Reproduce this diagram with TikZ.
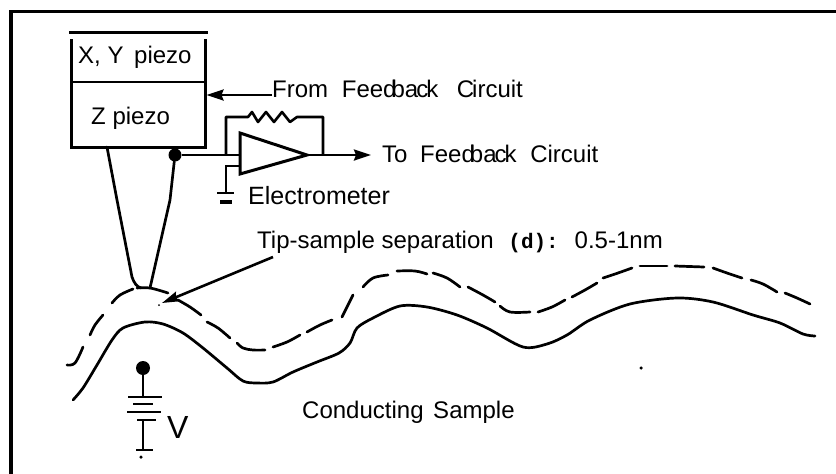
\documentclass[tikz,border=0pt]{standalone}
\usepackage{fontspec}
\setmainfont{Liberation Sans}
\setmonofont{Liberation Mono}
\usetikzlibrary{arrows.meta, calc}
\newcommand{\fbword}{Feed\kern-5pt ba\kern-2pt c\kern-2pt k}

\begin{document}
\begin{tikzpicture}[
  x=1pt, y=-1pt,
  frame/.style   = {line width=3.8pt},
  wall/.style    = {line width=3pt},
  wire/.style    = {line width=2.6pt},
  surface/.style = {line width=2.7pt, line cap=round, line join=round},
  arrow/.style   = {wire, -{Stealth[length=17pt, width=11pt, inset=2pt]}},
  label/.style   = {inner sep=0pt, anchor=base west, font=\fontsize{24}{27}\selectfont},
  dotmark/.style = {circle, fill=black, inner sep=0pt, minimum size=#1}
]
\useasboundingbox (0,0) rectangle (836,474);

% frame
\draw[frame] (836,11.5) -- (11,11.5) -- (11,474);

% piezo stack
\draw[wall] (69,32) -- (208,32);
\draw[wall] (71,39) -- (71,147) -- (205,147) -- (205,39);
\draw[line width=1.6pt] (71,82) -- (205,82);
\coordinate (zside) at (206.5,95);

\node[label] (xy)   at (78,63)   {X, Y\hspace{4pt} piezo};
\node[label] (z)    at (91,124)  {Z piezo};
\node[label] (from) at (272,97)  {From\hspace{7pt} \fbword\hspace{12pt} C\kern-2pt ircuit};
\node[label] (to)   at (382,162) {To\hspace{6pt} \fbword\hspace{7pt} Circuit};
\node[label, font=\fontsize{25}{28}\selectfont] (elec) at (248,204) {Electrometer};
\node[label] (sep)  at (257,248) {Tip-sample separation\hspace{8pt} {\fontsize{21}{24}\selectfont\ttfamily\bfseries (d):}\hspace{7pt} 0.5-1nm};
\node[label] (cond) at (302,418) {Conducting\hspace{3pt} Sample};
\node[label, font=\fontsize{32}{36}\selectfont] (volt) at (167,438) {V};

\draw[arrow] (272,95) -- (zside);

% electrometer
\node[dotmark=13pt] (probe) at (175,155) {};
\coordinate (ampin)  at (240,155);
\coordinate (amptip) at (307,155);
\coordinate (fbl)    at (226,155);
\coordinate (fbr)    at (323,155);
\coordinate (outend) at (371,155);
\draw[wall] (240,133) -- (240,174) -- (amptip) -- cycle;
\draw[wire] (probe) -- (ampin);
\draw[arrow] (amptip) -- (outend);
\draw[wire, line join=round] (fbl) -- (226,117) -- (248,117) -- (252,112) -- (258,122) -- (266,112) -- (274,122)
  -- (282,112) -- (290,122) -- (297,117) -- (323,117) -- (fbr);
\draw[wire] (240,166) -- (226,166) -- (226,193);
\draw[wire] (217,193) -- (234,193);
\draw[line width=3.4pt] (220,202) -- (232,202);

% tip
\draw[surface] (107,147) -- (117,200) -- (132,277) .. controls (134,283) and (137,287) .. (141,288);
\draw[surface] (probe) -- (170,200) -- (150,288);

% tip-sample pointer
\coordinate (gap) at (162,303);
\draw[wire, -{Stealth[length=17pt, width=10pt, inset=2pt]}] (273,257) -- (gap);

% dashed outline of the sample
\foreach \seg in {
  {(67,365) (75,363) (83,347)},
  {(90,335) (95,325) (103,315)},
  {(112,303) (120,295) (133,289)},
  {(137,288) (150,288) (168,293)},
  {(178,300) (190,307) (201,315)},
  {(207,322) (218,328) (230,338)},
  {(237,343) (243,348) (253,350) (265,350)},
  {(273,347) (287,342) (300,335)},
  {(307,332) (320,325) (332,320)},
  {(342,317) (348,305) (353,295)},
  {(363,287) (373,278) (388,275)},
  {(397,271) (415,271) (427,274)},
  {(433,273) (447,278) (460,287)},
  {(468,287) (483,295) (495,302)},
  {(500,306) (510,312) (530,312)},
  {(538,312) (552,307) (565,300)},
  {(572,297) (585,290) (597,283)},
  {(603,278) (618,273) (632,268)},
  {(640,266) (667,266)},
  {(675,266) (704,267)},
  {(713,268) (727,273) (742,278)},
  {(751,280) (763,284) (777,292)},
  {(785,293) (797,298) (810,304)}}
  \draw[surface] plot[smooth, tension=0.6] coordinates \seg;

% sample
\draw[surface] plot[smooth, tension=0.5] coordinates {
  (73,400) (83,388) (97,365) (112,340) (123,328) (145,322) (163,324) (183,333) (203,348)
  (227,368) (243,381) (257,383) (273,382) (293,372) (317,362) (339,353) (350,343) (357,328)
  (373,318) (400,306) (427,307) (457,315) (487,328) (523,347) (547,344) (567,335) (590,320)
  (630,304) (677,298) (713,302) (753,315) (780,323) (803,334) (815,336)};

% bias battery
\node[dotmark=14pt] (bias) at (143,368) {};
\coordinate (plateA) at (143,397);
\coordinate (plateD) at (143,420);
\coordinate (foot)   at (143,450);
\draw[wire] (bias) -- (plateA);
\draw[wire] (128,397) -- (162,397);
\draw[wire] (133,404) -- (153,404);
\draw[wire] (127,412) -- (161,412);
\draw[wire] (137,420) -- (156,420);
\draw[wire] (plateD) -- (foot);
\draw[wire] (136,450) -- (153,450);

% stray specks
\node[dotmark=3.5pt] (speckA) at (141,457) {};
\node[dotmark=3.5pt] (speckB) at (641,368) {};
\node[dotmark=2pt] (speckC) at (159,305) {};

\end{tikzpicture}
\end{document}
